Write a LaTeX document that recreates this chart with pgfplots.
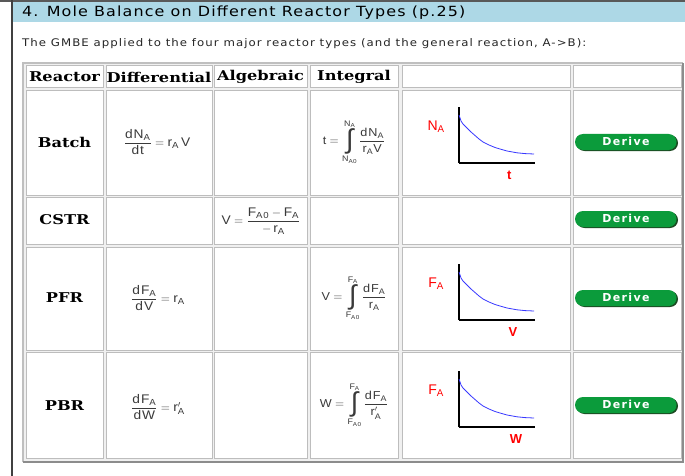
\documentclass[border=0pt]{standalone}
\usepackage{pgfplots}
\pgfplotsset{compat=1.18}
\usepackage{pgfplotstable}
\usepackage{amsmath}
\usepackage{fontspec}
\setmainfont{DejaVu Sans}
\newfontfamily\titlefont{DejaVu Sans}[FakeStretch=1.14, LetterSpace=8]
\newfontfamily\subfont{DejaVu Sans}[FakeStretch=1.12, LetterSpace=10]
\newfontfamily\btnfont{DejaVu Sans}[LetterSpace=12]
\newfontfamily\hdr{DejaVu Serif}[FakeStretch=1.2]
\newfontfamily\arial{Liberation Sans}[FakeStretch=1.1, LetterSpace=8]
\newfontfamily\lab{Liberation Sans}

\definecolor{titlebg}{HTML}{ADD8E6}
\definecolor{cellline}{HTML}{BDBDBD}
\definecolor{frameline}{HTML}{8C8C8C}
\definecolor{btn}{HTML}{0B9B3B}
\definecolor{btndark}{HTML}{1C4A22}
\definecolor{curve}{HTML}{3838FF}
\definecolor{eq}{HTML}{3A3A3A}

% decay curve, in pixels above the x axis (axis box 76 x 56)
\pgfplotstableread{
x y
0 48
2 42
4 39
8 35
12 31
16 27.5
20 24
24 21
30 18
36 15.5
41 14
48 12
58 10.2
66 9.4
75 9
}\decay

\newcommand{\tx}[1]{\text{#1}}
% integral sign with its limits stacked above and below
\newcommand{\intlim}[2]{\mathop{\vcenter{\hbox{\lab\fontsize{27}{27}\selectfont\char"222B}}}\limits_{\tx{#1}_{\tx{A0}}}^{\tx{#2}_{\tx{A}}}}

\pgfplotsset{
  minichart/.style={
    width=76pt, height=56pt, scale only axis,
    xmin=0, xmax=76, ymin=0, ymax=56,
    axis x line=bottom, axis y line=left,
    axis line style={-, line width=1.6pt, black},
    xtick=\empty, ytick=\empty,
    anchor=south west, clip=false,
    xlabel style={text=red, font=\lab\bfseries\fontsize{13}{13}\selectfont,
      at={(rel axis cs:0.66,0)}, anchor=north, yshift=-4pt},
    ylabel style={rotate=-90, text=red, font=\lab\fontsize{14}{14}\selectfont,
      at={(rel axis cs:-0.3,0.65)}, anchor=center},
  },
}

\begin{document}
\begin{tikzpicture}[x=1pt, y=-1pt]
\path[use as bounding box] (0,0) rectangle (685,476);
\fill[white] (0,0) rectangle (685,476);

% page frame and title bar
\fill[black!65] (0,0) rectangle (685,2.5);
\fill[black!75] (11,0) rectangle (12.5,476);
\fill[titlebg] (12.5,2.5) rectangle (685,22);
\node[anchor=west, inner sep=0pt, font=\titlefont\fontsize{14}{15}\selectfont] at (22,13) {4. Mole Balance on Different Reactor Types (p.25)};
\node[anchor=west, inner sep=0pt, text=black!85, font=\subfont\fontsize{10.5}{12}\selectfont] at (22,44) {The GMBE applied to the four major reactor types (and the general reaction, A-{}>B):};

% table frame
\fill[black!6] (23,63) rectangle (683,462);
\draw[black!25, line width=1.5pt] (23,462) -- (23,63) -- (683,63);
\draw[frameline, line width=2pt] (23,462) -- (683,462) -- (683,63);

% cells
\foreach \xa/\xb in {26/103, 106/212, 214/307, 310/398, 402/570, 573/681}{
  \foreach \ya/\yb in {66/88, 91/195, 197/244, 247/350, 352/458}{
    \filldraw[fill=white, draw=cellline, line width=1pt] (\xa,\ya) rectangle (\xb,\yb);
  }
}

% header row and reactor names
\begin{scope}[font=\hdr\bfseries\fontsize{13.5}{14}\selectfont]
\node at (64.5,77) {Reactor};
\node at (159,77) {Differential};
\node at (260.5,77) {Algebraic};
\node at (354,77) {Integral};
\node at (64.5,142) {Batch};
\node at (64.5,220) {CSTR};
\node at (64.5,298) {PFR};
\node at (64.5,406) {PBR};
\end{scope}

% equations
\begin{scope}[text=eq, font=\arial\fontsize{12.5}{14}\selectfont]
\node at (157,142) {$\dfrac{\tx{dN}_{\tx{A}}}{\tx{dt}} = \tx{r}_{\tx{A}}\,\tx{V}$};
\node at (261,221) {$\tx{V} = \dfrac{\tx{F}_{\tx{A0}} - \tx{F}_{\tx{A}}}{-\,\tx{r}_{\tx{A}}}$};
\node at (158,298) {$\dfrac{\tx{dF}_{\tx{A}}}{\tx{dV}} = \tx{r}_{\tx{A}}$};
\node at (158,407) {$\dfrac{\tx{dF}_{\tx{A}}}{\tx{dW}} = \tx{r}'_{\tx{A}}$};
\end{scope}
\begin{scope}[text=eq, font=\arial\fontsize{11.5}{13}\selectfont]
\node at (354,142) {$\tx{t} = \intlim{N}{N} \dfrac{\tx{dN}_{\tx{A}}}{\tx{r}_{\tx{A}}\tx{V}}$};
\node at (354,298) {$\tx{V} = \intlim{F}{F} \dfrac{\tx{dF}_{\tx{A}}}{\tx{r}_{\tx{A}}}$};
\node at (354,405) {$\tx{W} = \intlim{F}{F} \dfrac{\tx{dF}_{\tx{A}}}{\tx{r}'_{\tx{A}}}$};
\end{scope}

% Derive buttons
\foreach \yc in {142, 219, 298, 405}{
  \fill[btndark, rounded corners=8pt] (576.5,\yc-7) rectangle (678,\yc+9);
  \fill[btn, rounded corners=8pt] (575,\yc-8) rectangle (676.5,\yc+8);
  \node[text=white, font=\btnfont\bfseries\fontsize{11}{12}\selectfont] at (626,\yc-0.5) {Derive};
}

% the three small profiles
\begin{axis}[minichart, at={(459pt,-163pt)},
  xlabel={t}, ylabel={N\textsubscript{A}}]
\addplot[curve, line width=0.8pt] table[x=x, y=y] {\decay};
\end{axis}
\begin{axis}[minichart, at={(459pt,-320pt)},
  xlabel={V}, xlabel style={at={(rel axis cs:0.71,0)}},
  ylabel={F\textsubscript{A}}]
\addplot[curve, line width=0.8pt] table[x=x, y=y] {\decay};
\end{axis}
\begin{axis}[minichart, at={(459pt,-427pt)},
  xlabel={W}, xlabel style={at={(rel axis cs:0.75,0)}},
  ylabel={F\textsubscript{A}}]
\addplot[curve, line width=0.8pt] table[x=x, y=y] {\decay};
\end{axis}
\end{tikzpicture}
\end{document}
